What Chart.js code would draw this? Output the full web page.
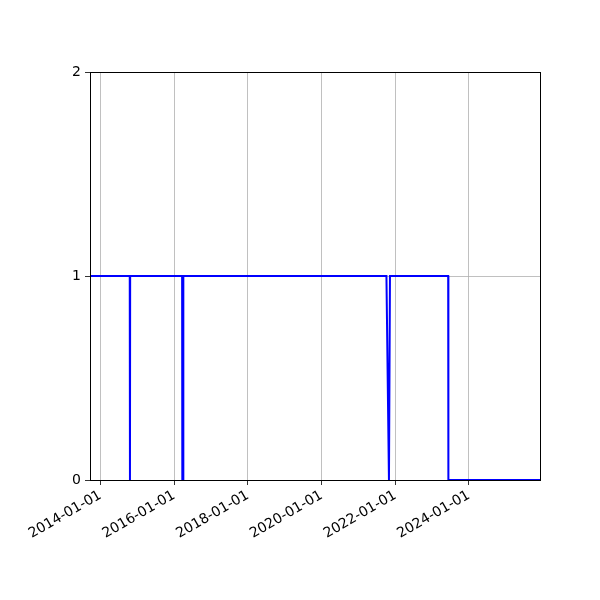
<!DOCTYPE html>
<html>
<head>
<meta charset="utf-8">
<script src="https://cdn.jsdelivr.net/npm/chart.js@4/dist/chart.umd.min.js"></script>
<style>
  html, body { margin: 0; padding: 0; background: #fff; }
  #wrap { width: 600px; height: 600px; }
</style>
</head>
<body>
<div id="wrap"><canvas id="chart" width="600" height="600"></canvas></div>
<script>
// Status series (1 = on, 0 = off)
const dates = [
    '2013-09-19', '2014-10-18', '2014-10-20', '2014-10-22',
    '2016-03-20', '2016-03-22', '2016-03-31', '2016-04-01',
    '2021-10-05', '2021-10-30', '2021-11-09', '2023-06-09',
    '2023-06-11', '2025-12-05'
];
const values = [1, 1, 0, 1, 1, 0, 0, 1, 1, 0, 1, 1, 0, 0];
const xTickDates = ['2014-01-01', '2016-01-01', '2018-01-01', '2020-01-01', '2022-01-01', '2024-01-01'];
const yTicks = [0, 1, 2];

const toMs = d => Date.parse(d + 'T00:00:00Z');
const fmt = ms => new Date(ms).toISOString().slice(0, 10);

const points = dates.map((d, i) => ({ x: toMs(d), y: values[i] }));

// Black frame round the plot area, like a matplotlib axes box
const frame = {
    id: 'frame',
    afterDraw(chart) {
        const a = chart.chartArea, ctx = chart.ctx;
        ctx.save();
        ctx.strokeStyle = '#000';
        ctx.lineWidth = 1;
        ctx.strokeRect(Math.round(a.left) + 0.5, Math.round(a.top) + 0.5,
            Math.round(a.right - a.left), Math.round(a.bottom - a.top));
        ctx.restore();
    }
};

new Chart(document.getElementById('chart').getContext('2d'), {
    type: 'line',
    data: {
        datasets: [{
            data: points,
            borderColor: '#0000ff',
            borderWidth: 2,
            pointRadius: 0,
            tension: 0,
            fill: false
        }]
    },
    options: {
        responsive: false,
        animation: false,
        layout: { padding: { left: 0, top: 72, right: 60, bottom: 0 } },
        plugins: { legend: { display: false }, tooltip: { enabled: false } },
        scales: {
            x: {
                type: 'linear',
                min: toMs(dates[0]),
                max: toMs(dates[dates.length - 1]),
                afterBuildTicks(scale) {
                    scale.ticks = xTickDates.map(d => ({ value: toMs(d) }));
                },
                afterFit(scale) { scale.height = 120; },
                border: { display: false },
                grid: { color: '#b0b0b0', lineWidth: 0.8, tickColor: '#000', tickLength: 5 },
                ticks: {
                    color: '#000',
                    font: { family: 'DejaVu Sans', size: 14 },
                    minRotation: 30,
                    maxRotation: 30,
                    padding: 2,
                    callback: v => fmt(v)
                }
            },
            y: {
                min: 0,
                max: 2,
                afterBuildTicks(scale) {
                    scale.ticks = yTicks.map(v => ({ value: v }));
                },
                afterFit(scale) { scale.width = 90; },
                border: { display: false },
                grid: { color: '#b0b0b0', lineWidth: 0.8, tickColor: '#000', tickLength: 5 },
                ticks: {
                    color: '#000',
                    font: { family: 'DejaVu Sans', size: 14 },
                    padding: 4,
                    callback: v => String(v)
                }
            }
        }
    },
    plugins: [frame]
});
</script>
</body>
</html>
